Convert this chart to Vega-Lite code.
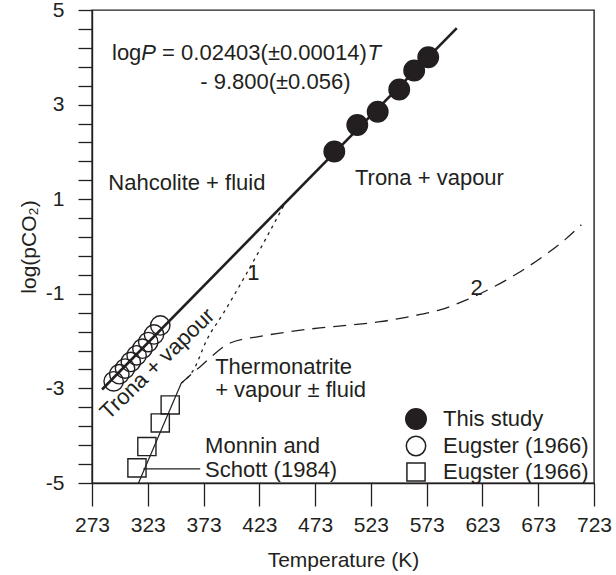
{
  "$schema": "https://vega.github.io/schema/vega-lite/v6.json",
  "width": 502,
  "height": 473,
  "autosize": {"type": "none"},
  "padding": {"left": 92, "top": 10, "right": 22, "bottom": 92},
  "background": "white",
  "config": {
    "font": "Liberation Sans",
    "view": {"stroke": "#231f20", "strokeWidth": 1.4},
    "axis": {
      "domainColor": "#231f20", "domainWidth": 1.4, "tickColor": "#231f20", "tickWidth": 1.3,
      "labelColor": "#231f20", "titleColor": "#231f20", "labelFont": "Liberation Sans", "titleFont": "Liberation Sans",
      "labelFontSize": 21, "titleFontSize": 21, "titleFontWeight": "normal", "grid": false, "labelFlush": false, "labelOverlap": false
    },
    "legend": {"labelFont": "Liberation Sans", "labelFontSize": 22, "labelColor": "#231f20"},
    "text": {"font": "Liberation Sans", "fontSize": 22, "color": "#231f20"}
  },
  "resolve": {"scale": {"y": "independent"}, "axis": {"y": "independent"}},
  "datasets": {
    "points": [
      {"T": 490.2, "logP": 2.01, "series": "This study"},
      {"T": 510.8, "logP": 2.57, "series": "This study"},
      {"T": 529.1, "logP": 2.85, "series": "This study"},
      {"T": 548.4, "logP": 3.32, "series": "This study"},
      {"T": 561.8, "logP": 3.72, "series": "This study"},
      {"T": 574.4, "logP": 4.0, "series": "This study"},
      {"T": 292.4, "logP": -2.85, "series": "Eugster (1966) a"},
      {"T": 297.5, "logP": -2.7, "series": "Eugster (1966) a"},
      {"T": 302.6, "logP": -2.58, "series": "Eugster (1966) a"},
      {"T": 307.8, "logP": -2.44, "series": "Eugster (1966) a"},
      {"T": 313.0, "logP": -2.3, "series": "Eugster (1966) a"},
      {"T": 318.2, "logP": -2.16, "series": "Eugster (1966) a"},
      {"T": 323.4, "logP": -2.02, "series": "Eugster (1966) a"},
      {"T": 328.6, "logP": -1.86, "series": "Eugster (1966) a"},
      {"T": 334.2, "logP": -1.67, "series": "Eugster (1966) a"},
      {"T": 313.3, "logP": -4.68, "series": "Eugster (1966) b"},
      {"T": 322.2, "logP": -4.23, "series": "Eugster (1966) b"},
      {"T": 334.2, "logP": -3.73, "series": "Eugster (1966) b"},
      {"T": 343.1, "logP": -3.35, "series": "Eugster (1966) b"}
    ],
    "lines": [
      {"T": 282, "logP": -3.024, "line": "fit"},
      {"T": 600, "logP": 4.618, "line": "fit"},
      {"T": 314.7, "logP": -5.0, "line": "monnin"},
      {"T": 353, "logP": -2.89, "line": "monnin"},
      {"T": 319, "logP": -4.7, "line": "leader"},
      {"T": 370, "logP": -4.7, "line": "leader"},
      {"T": 353, "logP": -2.89, "line": "c1"},
      {"T": 364, "logP": -2.61, "line": "c1"},
      {"T": 376, "logP": -1.97, "line": "c1"},
      {"T": 390.8, "logP": -1.41, "line": "c1"},
      {"T": 411.8, "logP": -0.56, "line": "c1"},
      {"T": 446.1, "logP": 0.92, "line": "c1"},
      {"T": 353, "logP": -2.89, "line": "c2"},
      {"T": 370, "logP": -2.54, "line": "c2"},
      {"T": 396.8, "logP": -2.04, "line": "c2"},
      {"T": 423.7, "logP": -1.9, "line": "c2"},
      {"T": 450.5, "logP": -1.8, "line": "c2"},
      {"T": 477.4, "logP": -1.72, "line": "c2"},
      {"T": 504.3, "logP": -1.66, "line": "c2"},
      {"T": 531.1, "logP": -1.59, "line": "c2"},
      {"T": 558, "logP": -1.48, "line": "c2"},
      {"T": 584.8, "logP": -1.34, "line": "c2"},
      {"T": 608.7, "logP": -1.13, "line": "c2"},
      {"T": 632.6, "logP": -0.86, "line": "c2"},
      {"T": 655, "logP": -0.56, "line": "c2"},
      {"T": 677.3, "logP": -0.21, "line": "c2"},
      {"T": 696.8, "logP": 0.14, "line": "c2"},
      {"T": 711.7, "logP": 0.46, "line": "c2"}
    ],
    "labels": [
      {"T": 290.93, "logP": 4.09, "text": "log"},
      {"T": 335.84, "logP": 4.09, "text": "= 0.02403(±0.00014)"},
      {"T": 370.0, "logP": 3.485, "text": "- 9.800(±0.056)"},
      {"T": 287.6, "logP": 1.34, "text": "Nahcolite + fluid"},
      {"T": 508.7, "logP": 1.44, "text": "Trona + vapour"},
      {"T": 383.4, "logP": -2.54, "text": "Thermonatrite"},
      {"T": 383.4, "logP": -3.03, "text": "+ vapour ± fluid"},
      {"T": 374.4, "logP": -4.21, "text": "Monnin and"},
      {"T": 374.4, "logP": -4.72, "text": "Schott (1984)"}
    ],
    "italics": [
      {"T": 317.19, "logP": 4.09, "text": "P"},
      {"T": 520.05, "logP": 4.09, "text": "T"}
    ],
    "numbers": [
      {"T": 417.7, "logP": -0.56, "text": "1"},
      {"T": 617.7, "logP": -0.88, "text": "2"}
    ],
    "rotated": [
      {"T": 331.5, "logP": -2.48, "text": "Trona + vapour"}
    ]
  },
  "layer": [
    {
      "data": {"name": "lines"},
      "transform": [{"filter": "datum.line == 'fit'"}],
      "mark": {"type": "line", "color": "#231f20", "strokeWidth": 2.6},
      "encoding": {
        "x": {"field": "T", "type": "quantitative", "scale": {"domain": [273, 723], "nice": false, "zero": false},
          "axis": {"values": [273, 323, 373, 423, 473, 523, 573, 623, 673, 723], "tickCount": 50, "tickSize": 23, "labelPadding": 8, "title": "Temperature (K)", "titlePadding": 14}},
        "y": {"field": "logP", "type": "quantitative", "scale": {"domain": [-5, 5], "nice": false, "zero": false},
          "axis": {
            "orient": "left",
            "values": [-5, -4.6, -4.2, -3.8, -3.4, -3, -2.6, -2.2, -1.8, -1.4, -1, -0.6, -0.2, 0.2, 0.6, 1, 1.4, 1.8, 2.2, 2.6, 3, 3.4, 3.8, 4.2, 4.6, 5],
            "tickCount": 100,
            "tickSize": 14,
            "labelExpr": "abs(datum.value - round(datum.value)) < 0.01 ? '' + round(datum.value) : ''",
            "labelPadding": 14,
            "title": "log(pCO₂)", "titlePadding": 6
          }}
      }
    },
    {
      "data": {"name": "lines"},
      "transform": [{"filter": "datum.line == 'monnin' || datum.line == 'leader'"}],
      "mark": {"type": "line", "color": "#231f20", "strokeWidth": 1.2},
      "encoding": {
        "x": {"field": "T", "type": "quantitative"},
        "y": {"field": "logP", "type": "quantitative", "scale": {"domain": [-5, 5], "nice": false, "zero": false}, "axis": null},
        "detail": {"field": "line"}
      }
    },
    {
      "data": {"name": "lines"},
      "transform": [{"filter": "datum.line == 'c1'"}],
      "mark": {"type": "line", "color": "#231f20", "strokeWidth": 1.3, "strokeDash": [3, 4.5], "interpolate": "monotone"},
      "encoding": {
        "x": {"field": "T", "type": "quantitative"},
        "y": {"field": "logP", "type": "quantitative", "scale": {"domain": [-5, 5], "nice": false, "zero": false}, "axis": null}
      }
    },
    {
      "data": {"name": "lines"},
      "transform": [{"filter": "datum.line == 'c2'"}],
      "mark": {"type": "line", "color": "#231f20", "strokeWidth": 1.3, "strokeDash": [13, 8], "interpolate": "monotone"},
      "encoding": {
        "x": {"field": "T", "type": "quantitative"},
        "y": {"field": "logP", "type": "quantitative", "scale": {"domain": [-5, 5], "nice": false, "zero": false}, "axis": null}
      }
    },
    {
      "data": {"name": "points"},
      "mark": {"type": "point", "filled": true, "strokeWidth": 1.4, "opacity": 1},
      "encoding": {
        "x": {"field": "T", "type": "quantitative"},
        "y": {"field": "logP", "type": "quantitative", "scale": {"domain": [-5, 5], "nice": false, "zero": false}, "axis": null},
        "stroke": {"value": "#231f20"},
        "shape": {"field": "series", "type": "nominal",
          "scale": {"domain": ["This study", "Eugster (1966) a", "Eugster (1966) b"], "range": ["circle", "circle", "square"]},
          "legend": {"title": null, "orient": "none", "legendX": 313, "legendY": 398, "padding": 0,
            "labelOffset": 16, "rowPadding": 0, "labelExpr": "slice(datum.label, 0, 14)",
            "encode": {"symbols": {"update": {"stroke": {"value": "#231f20"}, "strokeWidth": {"value": 1.4}}}}}},
        "fill": {"field": "series", "type": "nominal",
          "scale": {"domain": ["This study", "Eugster (1966) a", "Eugster (1966) b"], "range": ["#231f20", "transparent", "transparent"]},
          "legend": {"title": null, "orient": "none", "legendX": 313, "legendY": 398, "padding": 0,
            "labelOffset": 16, "rowPadding": 0, "labelExpr": "slice(datum.label, 0, 14)",
            "encode": {"symbols": {"update": {"stroke": {"value": "#231f20"}, "strokeWidth": {"value": 1.4}}}}}},
        "size": {"field": "series", "type": "nominal",
          "scale": {"domain": ["This study", "Eugster (1966) a", "Eugster (1966) b"], "range": [420, 330, 400]},
          "legend": {"title": null, "orient": "none", "legendX": 313, "legendY": 398, "padding": 0,
            "labelOffset": 16, "rowPadding": 0, "labelExpr": "slice(datum.label, 0, 14)",
            "encode": {"symbols": {"update": {"stroke": {"value": "#231f20"}, "strokeWidth": {"value": 1.4}}}}}}
      }
    },
    {
      "data": {"name": "labels"},
      "mark": {"type": "text", "baseline": "middle", "align": "left"},
      "encoding": {
        "x": {"field": "T", "type": "quantitative"},
        "y": {"field": "logP", "type": "quantitative", "scale": {"domain": [-5, 5], "nice": false, "zero": false}, "axis": null},
        "text": {"field": "text"}
      }
    },
    {
      "data": {"name": "italics"},
      "mark": {"type": "text", "baseline": "middle", "align": "left", "fontStyle": "italic"},
      "encoding": {
        "x": {"field": "T", "type": "quantitative"},
        "y": {"field": "logP", "type": "quantitative", "scale": {"domain": [-5, 5], "nice": false, "zero": false}, "axis": null},
        "text": {"field": "text"}
      }
    },
    {
      "data": {"name": "numbers"},
      "mark": {"type": "text", "baseline": "middle", "align": "center"},
      "encoding": {
        "x": {"field": "T", "type": "quantitative"},
        "y": {"field": "logP", "type": "quantitative", "scale": {"domain": [-5, 5], "nice": false, "zero": false}, "axis": null},
        "text": {"field": "text"}
      }
    },
    {
      "data": {"name": "rotated"},
      "mark": {"type": "text", "baseline": "middle", "align": "center", "angle": -44},
      "encoding": {
        "x": {"field": "T", "type": "quantitative"},
        "y": {"field": "logP", "type": "quantitative", "scale": {"domain": [-5, 5], "nice": false, "zero": false}, "axis": null},
        "text": {"field": "text"}
      }
    }
  ]
}
